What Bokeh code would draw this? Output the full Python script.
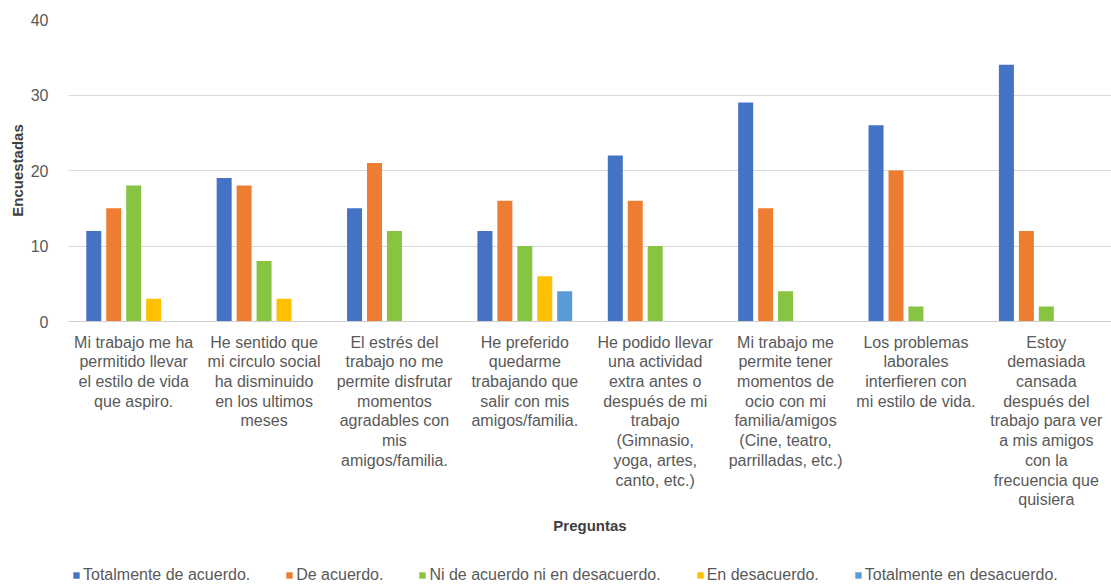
from bokeh.plotting import figure
from bokeh.layouts import column
from bokeh.models import FactorRange, Range1d, Legend, LegendItem, FixedTicker
from bokeh.transform import dodge
from bokeh.embed import file_html
from bokeh.resources import INLINE

# Survey questions (x categories), wrapped the way they appear under the axis
questions = [
    "Mi trabajo me ha\npermitido llevar\nel estilo de vida\nque aspiro.",
    "He sentido que\nmi circulo social\nha disminuido\nen los ultimos\nmeses",
    "El estrés del\ntrabajo no me\npermite disfrutar\nmomentos\nagradables con\nmis\namigos/familia.",
    "He preferido\nquedarme\ntrabajando que\nsalir con mis\namigos/familia.",
    "He podido llevar\nuna actividad\nextra antes o\ndespués de mi\ntrabajo\n(Gimnasio,\nyoga, artes,\ncanto, etc.)",
    "Mi trabajo me\npermite tener\nmomentos de\nocio con mi\nfamilia/amigos\n(Cine, teatro,\nparrilladas, etc.)",
    "Los problemas\nlaborales\ninterfieren con\nmi estilo de vida.",
    "Estoy\ndemasiada\ncansada\ndespués del\ntrabajo para ver\na mis amigos\ncon la\nfrecuencia que\nquisiera",
]

# Answer options (series)
answers = [
    "Totalmente de acuerdo.",
    "De acuerdo.",
    "Ni de acuerdo ni en desacuerdo.",
    "En desacuerdo.",
    "Totalmente en desacuerdo.",
]

# Number of respondents per question, one list per answer option
totalmente_de_acuerdo = [12, 19, 15, 12, 22, 29, 26, 34]
de_acuerdo = [15, 18, 21, 16, 16, 15, 20, 12]
ni_de_acuerdo = [18, 8, 12, 10, 10, 4, 2, 2]
en_desacuerdo = [3, 3, 0, 6, 0, 0, 0, 0]
totalmente_en_desacuerdo = [0, 0, 0, 4, 0, 0, 0, 0]

y_ticks = [0, 10, 20, 30, 40]

series = [totalmente_de_acuerdo, de_acuerdo, ni_de_acuerdo,
          en_desacuerdo, totalmente_en_desacuerdo]
colors = ["#4472C4", "#ED7D31", "#86C441", "#FFC000", "#5B9BD5"]

TEXT = "#595959"
TITLE = "#404040"
FONT = "Liberation Sans"

# ---- main bar chart -------------------------------------------------------
p = figure(
    width=1111, height=555,
    x_range=FactorRange(factors=questions),
    y_range=Range1d(0, 40),
    output_backend="svg", toolbar_location=None,
    min_border_left=68, min_border_right=0,
    min_border_top=19, min_border_bottom=234,
)
p.outline_line_color = None
p.background_fill_color = "white"
p.border_fill_color = "white"

data = {"q": questions}
for i, s in enumerate(series):
    data[f"s{i}"] = s

pitch = 0.153
for i, col in enumerate(colors):
    p.vbar(
        x=dodge("q", (i - 2) * pitch, range=p.x_range),
        top=f"s{i}", width=0.115, source=data,
        fill_color=col, line_color=None,
    )

# y axis
p.yaxis.ticker = FixedTicker(ticks=y_ticks)
p.yaxis.axis_line_color = None
p.yaxis.major_tick_line_color = None
p.yaxis.minor_tick_line_color = None
p.yaxis.major_label_standoff = 14
p.yaxis.major_label_text_font = FONT
p.yaxis.major_label_text_font_size = "16px"
p.yaxis.major_label_text_color = TEXT
p.yaxis.axis_label = "Encuestadas"
p.yaxis.axis_label_text_font = FONT
p.yaxis.axis_label_text_font_style = "bold"
p.yaxis.axis_label_text_font_size = "15px"
p.yaxis.axis_label_text_color = TITLE
p.yaxis.axis_label_standoff = 2

# x axis
p.xaxis.axis_line_color = "#cfcfcf"
p.xaxis.major_tick_line_color = None
p.xaxis.minor_tick_line_color = None
p.xaxis.major_label_standoff = 6
p.xaxis.major_label_text_font = FONT
p.xaxis.major_label_text_font_size = "16px"
p.xaxis.major_label_text_color = TEXT
p.xaxis.major_label_text_line_height = 1.16
p.xaxis.axis_label = "Preguntas"
p.xaxis.axis_label_text_font = FONT
p.xaxis.axis_label_text_font_style = "bold"
p.xaxis.axis_label_text_font_size = "15px"
p.xaxis.axis_label_text_color = TITLE
p.xaxis.axis_label_standoff = 6

p.xgrid.grid_line_color = None
p.ygrid.grid_line_color = "#d9d9d9"
p.ygrid.grid_line_width = 1

# ---- legend strip ---------------------------------------------------------
lg = figure(
    width=1111, height=33,
    x_range=Range1d(0, 1), y_range=Range1d(0, 1),
    output_backend="svg", toolbar_location=None,
    min_border_left=36, min_border_right=0,
    min_border_top=0, min_border_bottom=0,
)
lg.axis.visible = False
lg.grid.grid_line_color = None
lg.outline_line_color = None

# swatch renderers: they carry only the colours, their single row is NaN
nan = float("nan")
swatches = [
    lg.vbar(x=[nan], top=[nan], width=0.1, fill_color=col, line_color=None)
    for col in colors
]

legend = Legend(
    items=[LegendItem(label=a, renderers=[r]) for a, r in zip(answers, swatches)],
    orientation="horizontal",
    location="bottom_left",
    glyph_width=8, glyph_height=8,
    label_standoff=3, spacing=35,
    padding=0, margin=4,
    border_line_color=None, background_fill_alpha=0,
    label_text_font=FONT, label_text_font_size="16px",
    label_text_color=TEXT,
)
lg.add_layout(legend, "center")

layout = column(p, lg, spacing=0)

open("out.html", "w").write(file_html(layout, INLINE))
